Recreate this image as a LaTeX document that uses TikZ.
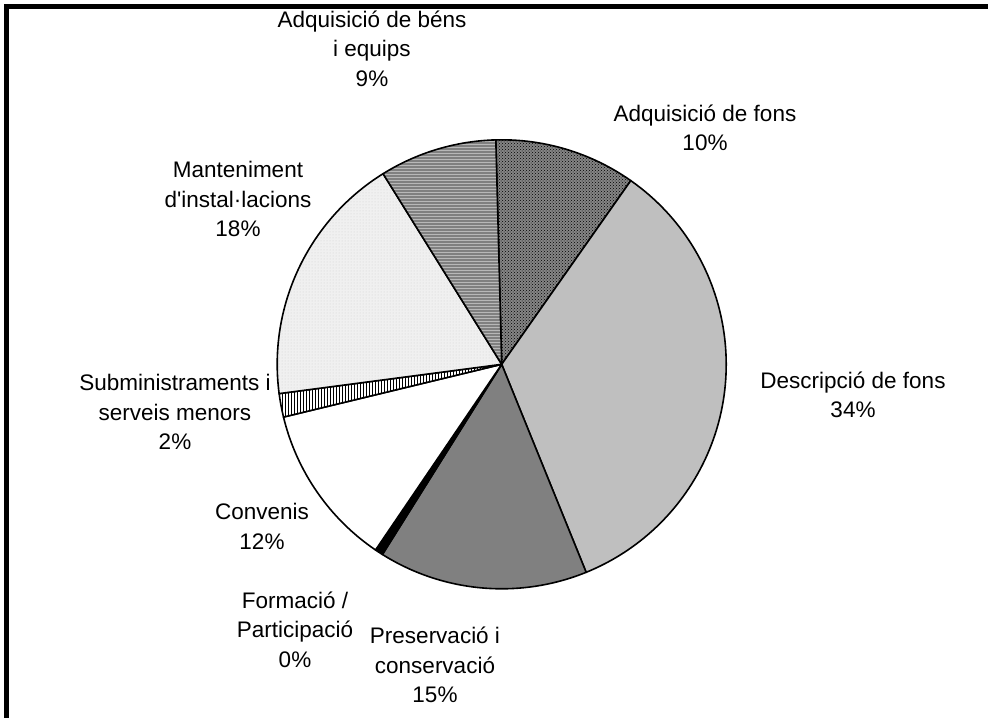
\documentclass[tikz,border=0pt]{standalone}
\usepackage{fontspec}
\setmainfont{Liberation Sans}[Ligatures=TeXOff]
\usetikzlibrary{patterns}
\definecolor{cfons}{gray}{0.52}
\definecolor{cdesc}{gray}{0.75}
\definecolor{cpres}{gray}{0.5}
\definecolor{cmant}{gray}{0.94}
\definecolor{cmantdot}{gray}{0.82}
\definecolor{cbens}{gray}{0.5}
\definecolor{cbensline}{gray}{0.72}
\tikzset{
  slice/.style={draw=black, line width=1.6pt, line join=round},
  lbl/.style={align=center, inner sep=0pt, font={\fontsize{22.5}{29.5}\selectfont}},
}
\begin{document}
\begin{tikzpicture}[x=1pt, y=-1pt]
\useasboundingbox (0,0) rectangle (988,718);
\fill[white] (0,0) rectangle (988,718);
% frame
\fill[black] (4,4) rectangle (988,9);
\fill[black] (4,4) rectangle (9,718);
\begin{scope}[shift={(501.7,364.3)}, y=1pt]
\def\R{224.5}
% Adquisicio de fons
\fill[cfons] (0,0) -- (91.5:\R) arc[start angle=91.5, end angle=54.9, radius=\R] -- cycle;
\fill[pattern=crosshatch dots, pattern color=black] (0,0) -- (91.5:\R) arc[start angle=91.5, end angle=54.9, radius=\R] -- cycle;
\draw[slice] (0,0) -- (91.5:\R) arc[start angle=91.5, end angle=54.9, radius=\R] -- cycle;
% Descripcio de fons
\draw[slice, fill=cdesc] (0,0) -- (54.9:\R) arc[start angle=54.9, end angle=-67.9, radius=\R] -- cycle;
% Preservacio
\draw[slice, fill=cpres] (0,0) -- (-67.9:\R) arc[start angle=-67.9, end angle=-122.1, radius=\R] -- cycle;
% Formacio
\draw[slice, fill=black] (0,0) -- (-122.1:\R) arc[start angle=-122.1, end angle=-124.2, radius=\R] -- cycle;
% Convenis
\draw[slice, fill=white] (0,0) -- (-124.2:\R) arc[start angle=-124.2, end angle=-166.4, radius=\R] -- cycle;
% Subministraments
\fill[white] (0,0) -- (-166.4:\R) arc[start angle=-166.4, end angle=-172.5, radius=\R] -- cycle;
\fill[pattern=vertical lines, pattern color=black] (0,0) -- (-166.4:\R) arc[start angle=-166.4, end angle=-172.5, radius=\R] -- cycle;
\draw[slice] (0,0) -- (-166.4:\R) arc[start angle=-166.4, end angle=-172.5, radius=\R] -- cycle;
% Manteniment
\fill[cmant] (0,0) -- (-172.5:\R) arc[start angle=-172.5, end angle=-238.1, radius=\R] -- cycle;
\fill[pattern=dots, pattern color=cmantdot] (0,0) -- (-172.5:\R) arc[start angle=-172.5, end angle=-238.1, radius=\R] -- cycle;
\draw[slice] (0,0) -- (-172.5:\R) arc[start angle=-172.5, end angle=-238.1, radius=\R] -- cycle;
% Adquisicio de bens
\fill[cbens] (0,0) -- (-238.1:\R) arc[start angle=-238.1, end angle=-268.5, radius=\R] -- cycle;
\fill[pattern=horizontal lines, pattern color=cbensline] (0,0) -- (-238.1:\R) arc[start angle=-238.1, end angle=-268.5, radius=\R] -- cycle;
\draw[slice] (0,0) -- (-238.1:\R) arc[start angle=-238.1, end angle=-268.5, radius=\R] -- cycle;
\end{scope}
% labels
\node[lbl] (lbens) at (372,48.5) {Adquisició de béns\\i equips\\9\%};
\node[lbl] (lfons) at (705,128) {Adquisició de fons\\10\%};
\node[lbl] (lmant) at (238,199) {Manteniment\\d'instal·lacions\\18\%};
\node[lbl] (ldesc) at (853,395) {Descripció de fons\\34\%};
\node[lbl] (lsubm) at (175,412) {Subministraments i\\serveis menors\\2\%};
\node[lbl] (lconv) at (262,526.5) {Convenis\\12\%};
\node[lbl] (lform) at (295,629.5) {Formació /\\Participació\\0\%};
\node[lbl] (lpres) at (435,665) {Preservació i\\conservació\\15\%};
\end{tikzpicture}
\end{document}
